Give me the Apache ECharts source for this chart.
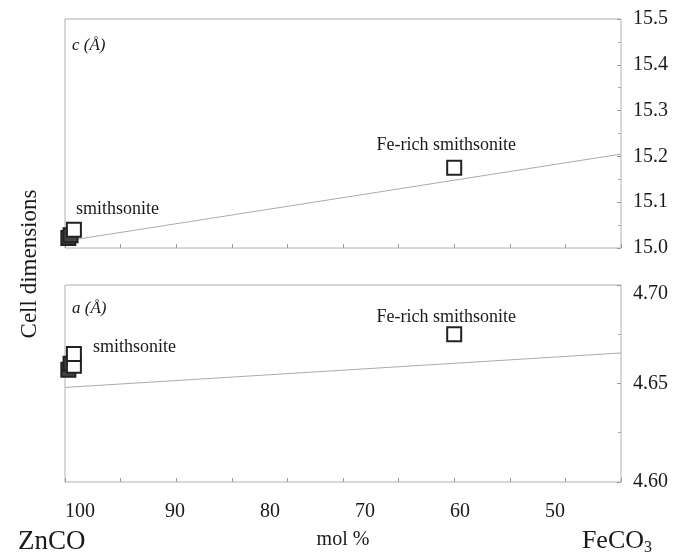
<!DOCTYPE html>
<html>
<head>
<meta charset="utf-8">
<script src="https://cdn.jsdelivr.net/npm/echarts@6/dist/echarts.min.js"></script>
<style>html,body{margin:0;padding:0;background:#fff}#chart{width:676px;height:558px}</style>
</head>
<body>
<div id="chart"></div>
<script>
// ---- data ----
const xTickLabels = [100, 90, 80, 70, 60, 50];
const cTicks = [15.0, 15.1, 15.2, 15.3, 15.4, 15.5];
const aTicks = [4.60, 4.65, 4.70];
const cLine = [[100, 15.015], [50, 15.205]];
const aLine = [[100, 4.648], [50, 4.6655]];
const cSmithDark = [[99.7, 15.022], [99.5, 15.028]];
const cSmith = [[99.2, 15.040]];
const cFeRich = [[65.0, 15.175]];
const aSmithDark = [[99.7, 4.657], [99.5, 4.660]];
const aSmith = [[99.2, 4.659], [99.2, 4.665]];
const aFeRich = [[65.0, 4.675]];

const SERIF = '"Liberation Serif", "DejaVu Serif", serif';
const TXT = '#1a1a1a';
const chart = echarts.init(document.getElementById('chart'));

function dataXAxis(gi) {
  return {
    type: 'value', gridIndex: gi, min: 50, max: 100, interval: 5, inverse: true,
    axisLine: {show: false}, splitLine: {show: false}, axisLabel: {show: false},
    axisTick: {show: true, inside: true, length: 4, lineStyle: {color: '#999'}}
  };
}
function rightYAxis(gi, min, max, interval, dec, shiftMax) {
  return {
    type: 'value', gridIndex: gi, position: 'right', min: min, max: max, interval: interval,
    axisLine: {show: false}, splitLine: {show: false},
    axisTick: {show: true, inside: true, length: 4, lineStyle: {color: '#999'}},
    minorTick: {show: true, splitNumber: 2, length: 3, lineStyle: {color: '#aaa'}},
    axisLabel: {margin: 12, fontFamily: SERIF, fontSize: 20, color: TXT,
      formatter: v => (shiftMax && Math.abs(v - max) < 1e-9) ? '{low|' + Number(v).toFixed(dec) + '}' : Number(v).toFixed(dec),
      rich: {low: {fontFamily: SERIF, fontSize: 20, color: TXT, padding: [18, 0, 0, 0]}}}
  };
}
function squares(xi, yi, data, fill, z, labelCfg) {
  return {
    type: 'scatter', xAxisIndex: xi, yAxisIndex: yi, symbol: 'rect', symbolSize: 14, z: z,
    itemStyle: {color: fill, borderColor: '#222', borderWidth: 2, opacity: 1},
    data: data.map((p, i) => (labelCfg && i === data.length - 1) ? {value: p, label: labelCfg} : p)
  };
}
function lbl(text, pos) {
  return {show: true, formatter: text, position: pos, align: 'left', verticalAlign: 'middle',
    fontFamily: SERIF, fontSize: 18, color: TXT};
}
function feLbl(dist) {
  return {show: true, formatter: 'Fe-rich smithsonite', position: 'top',
    distance: dist, offset: [-8, 0], fontFamily: SERIF, fontSize: 18, color: TXT};
}
function line(xi, yi, data) {
  return {type: 'line', xAxisIndex: xi, yAxisIndex: yi, data: data, showSymbol: false,
    lineStyle: {color: '#aaa', width: 1}, silent: true, z: 1};
}

chart.setOption({
  animation: false,
  grid: [
    {left: 65, top: 19, width: 556, height: 229, show: true, borderColor: '#b0b0b0', borderWidth: 1},
    {left: 65, top: 285, width: 556, height: 197, show: true, borderColor: '#b0b0b0', borderWidth: 1}
  ],
  xAxis: [
    dataXAxis(0), dataXAxis(1),
    {
      type: 'value', gridIndex: 1, min: 43.05, max: 101.58, inverse: true, position: 'bottom',
      axisLine: {show: false}, axisTick: {show: false}, splitLine: {show: false},
      axisLabel: {customValues: xTickLabels, margin: 20, fontFamily: SERIF, fontSize: 20, color: TXT},
      name: 'mol %', nameLocation: 'middle', nameGap: 48,
      nameTextStyle: {fontFamily: SERIF, fontSize: 20, color: TXT}
    }
  ],
  yAxis: [
    rightYAxis(0, cTicks[0], cTicks[cTicks.length - 1], 0.1, 1, false),
    rightYAxis(1, aTicks[0], aTicks[aTicks.length - 1], 0.05, 2, true)
  ],
  series: [
    line(0, 0, cLine),
    squares(0, 0, cSmithDark, '#444', 3),
    squares(0, 0, cSmith, '#fff', 4, lbl('smithsonite', [10, -12])),
    squares(0, 0, cFeRich, '#fff', 4, feLbl(6)),
    line(1, 1, aLine),
    squares(1, 1, aSmithDark, '#444', 3),
    squares(1, 1, aSmith, '#fff', 4, lbl('smithsonite', [27, 1])),
    squares(1, 1, aFeRich, '#fff', 4, feLbl(0))
  ],
  graphic: [
    {type: 'text', left: 72, top: 37, style: {text: 'c (Å)', fontFamily: SERIF, fontStyle: 'italic', fontSize: 17, fill: TXT}},
    {type: 'text', left: 72, top: 300, style: {text: 'a (Å)', fontFamily: SERIF, fontStyle: 'italic', fontSize: 17, fill: TXT}},
    {type: 'text', x: 30, y: 264, rotation: Math.PI / 2,
      style: {text: 'Cell dimensions', fontFamily: SERIF, fontSize: 23, fill: TXT, align: 'center', verticalAlign: 'middle'}},
    {type: 'text', left: 18, top: 528, style: {text: 'ZnCO', fontFamily: SERIF, fontSize: 27, fill: TXT}},
    {type: 'text', right: 24, top: 528, style: {
      text: 'FeCO{s|3}', fontFamily: SERIF, fontSize: 26, fill: TXT,
      rich: {s: {fontFamily: SERIF, fontSize: 16, fill: TXT, padding: [14, 0, 0, 0]}}}}
  ]
});
</script>
</body>
</html>
